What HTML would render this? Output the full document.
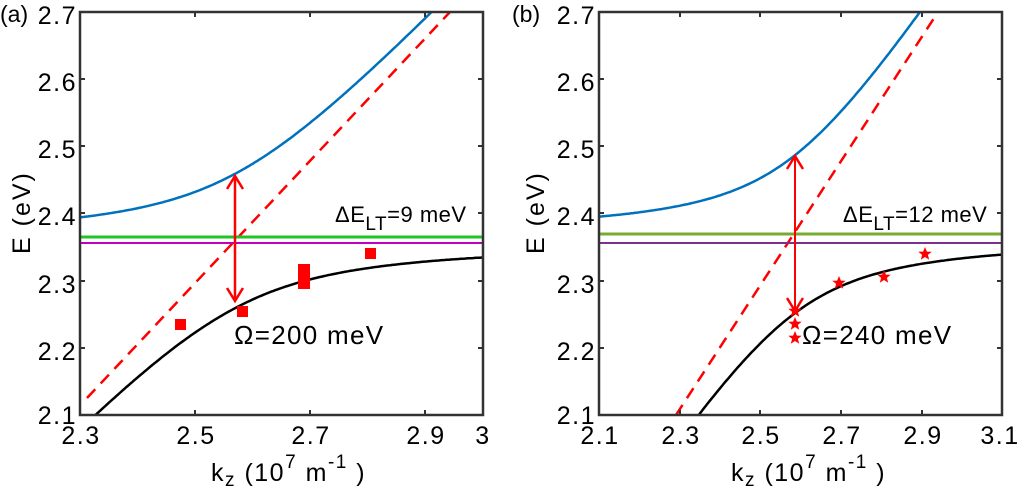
<!DOCTYPE html>
<html><head><meta charset="utf-8"><style>
html,body{margin:0;padding:0;background:#fff;width:1018px;height:495px;overflow:hidden}
svg{display:block}
text{font-family:"Liberation Sans",Arial,sans-serif;fill:#000}
.tk{font-size:25px;letter-spacing:1.5px}
</style></head><body>
<svg width="1018" height="495" viewBox="0 0 1018 495" xmlns="http://www.w3.org/2000/svg">
<defs>
<path id="star" d="M0,-7 L1.9,-2.4 6.7,-2.2 2.9,0.9 4.2,5.7 0,3 -4.2,5.7 -2.9,0.9 -6.7,-2.2 -1.9,-2.4Z" fill="#f00"/>
<clipPath id="ca"><rect x="80" y="12" width="403" height="403"/></clipPath>
<clipPath id="cb"><rect x="599" y="12" width="403" height="403"/></clipPath>
</defs>
<!-- Panel a -->
<g clip-path="url(#ca)">
<path id="ua" d="" fill="none" stroke="#0072bd" stroke-width="2.5"/>
<line x1="87" y1="398" x2="450" y2="12" stroke="#f00" stroke-width="2.5" stroke-dasharray="12,8"/>
<path id="la" d="" fill="none" stroke="#000" stroke-width="2.5"/>
</g>
<line x1="80" y1="237" x2="483" y2="237" stroke="#21c421" stroke-width="3"/>
<line x1="80" y1="243" x2="483" y2="243" stroke="#bf00bf" stroke-width="2"/>
<line x1="235" y1="177" x2="235" y2="300" stroke="#f00" stroke-width="2.5"/>
<path d="M227,189 L235,176 243,189 M227,288 L235,301 243,288" fill="none" stroke="#f00" stroke-width="2.5"/>
<rect x="175" y="319" width="11" height="11" fill="#f00"/>
<rect x="237" y="306" width="11" height="11" fill="#f00"/>
<rect x="298" y="264" width="12" height="25" fill="#f00"/>
<rect x="365" y="248" width="11" height="11" fill="#f00"/>
<rect x="80" y="12" width="403" height="403" fill="none" stroke="#333" stroke-width="2.5"/>
<g stroke="#333" stroke-width="2">
<line x1="80" y1="79" x2="85" y2="79"/><line x1="80" y1="146" x2="85" y2="146"/><line x1="80" y1="213" x2="85" y2="213"/><line x1="80" y1="281" x2="85" y2="281"/><line x1="80" y1="348" x2="85" y2="348"/>
<line x1="483" y1="79" x2="478" y2="79"/><line x1="483" y1="146" x2="478" y2="146"/><line x1="483" y1="213" x2="478" y2="213"/><line x1="483" y1="281" x2="478" y2="281"/><line x1="483" y1="348" x2="478" y2="348"/>
<line x1="195" y1="415" x2="195" y2="410"/><line x1="310" y1="415" x2="310" y2="410"/><line x1="425" y1="415" x2="425" y2="410"/>
<line x1="195" y1="12" x2="195" y2="17"/><line x1="310" y1="12" x2="310" y2="17"/><line x1="425" y1="12" x2="425" y2="17"/>
</g>
<g class="tk" text-anchor="end">
<text x="77" y="24">2.7</text><text x="77" y="91">2.6</text><text x="77" y="158">2.5</text><text x="77" y="225">2.4</text><text x="77" y="293">2.3</text><text x="77" y="360">2.2</text><text x="77" y="424">2.1</text>
</g>
<text x="0" y="22" font-size="23">(a)</text>
<g class="tk" text-anchor="middle">
<text x="81" y="444">2.3</text><text x="196" y="444">2.5</text><text x="311" y="444">2.7</text><text x="426" y="444">2.9</text><text x="483" y="444">3</text>
</g>
<text transform="translate(30,254) rotate(-90)" font-size="25" letter-spacing="2">E (eV)</text>
<text x="211" y="481" font-size="25" letter-spacing="1.5">k<tspan font-size="19" dy="5">z</tspan><tspan dy="-5"> (10</tspan><tspan font-size="19" dy="-13">7</tspan><tspan dy="13"> m</tspan><tspan font-size="19" dy="-13">-1</tspan><tspan dy="13"> )</tspan></text>
<text x="335" y="222" font-size="22" letter-spacing="0.5">ΔE<tspan font-size="19" dy="8">LT</tspan><tspan dy="-8">=9 meV</tspan></text>
<text x="234" y="344" font-size="26" letter-spacing="1.3">Ω=200 meV</text>
<!-- Panel b -->
<g clip-path="url(#cb)">
<path id="ub" d="" fill="none" stroke="#0072bd" stroke-width="2.5"/>
<line x1="676" y1="415" x2="938" y2="12" stroke="#f00" stroke-width="2.5" stroke-dasharray="12,8"/>
<path id="lb" d="" fill="none" stroke="#000" stroke-width="2.5"/>
</g>
<line x1="599" y1="234" x2="1002" y2="234" stroke="#77ac30" stroke-width="3"/>
<line x1="599" y1="243" x2="1002" y2="243" stroke="#7e2f8e" stroke-width="2"/>
<line x1="795" y1="157" x2="795" y2="310" stroke="#f00" stroke-width="2"/>
<path d="M787,169 L795,156 803,169 M787,298 L795,311 803,298" fill="none" stroke="#f00" stroke-width="2.5"/>
<use href="#star" x="795" y="311"/><use href="#star" x="795" y="324"/><use href="#star" x="795" y="338"/>
<use href="#star" x="839" y="283"/><use href="#star" x="884" y="277"/><use href="#star" x="925" y="254"/>
<rect x="599" y="12" width="403" height="403" fill="none" stroke="#333" stroke-width="2.5"/>
<g stroke="#333" stroke-width="2">
<line x1="599" y1="79" x2="604" y2="79"/><line x1="599" y1="146" x2="604" y2="146"/><line x1="599" y1="213" x2="604" y2="213"/><line x1="599" y1="281" x2="604" y2="281"/><line x1="599" y1="348" x2="604" y2="348"/>
<line x1="1002" y1="79" x2="997" y2="79"/><line x1="1002" y1="146" x2="997" y2="146"/><line x1="1002" y1="213" x2="997" y2="213"/><line x1="1002" y1="281" x2="997" y2="281"/><line x1="1002" y1="348" x2="997" y2="348"/>
<line x1="680" y1="415" x2="680" y2="410"/><line x1="760" y1="415" x2="760" y2="410"/><line x1="841" y1="415" x2="841" y2="410"/><line x1="922" y1="415" x2="922" y2="410"/>
<line x1="680" y1="12" x2="680" y2="17"/><line x1="760" y1="12" x2="760" y2="17"/><line x1="841" y1="12" x2="841" y2="17"/><line x1="922" y1="12" x2="922" y2="17"/>
</g>
<g class="tk" text-anchor="end">
<text x="596" y="24">2.7</text><text x="596" y="91">2.6</text><text x="596" y="158">2.5</text><text x="596" y="225">2.4</text><text x="596" y="293">2.3</text><text x="596" y="360">2.2</text><text x="596" y="424">2.1</text>
</g>
<text x="512" y="22" font-size="23">(b)</text>
<g class="tk" text-anchor="middle">
<text x="600" y="444">2.1</text><text x="681" y="444">2.3</text><text x="761" y="444">2.5</text><text x="842" y="444">2.7</text><text x="923" y="444">2.9</text><text x="1000" y="444">3.1</text>
</g>
<text transform="translate(544,254) rotate(-90)" font-size="25" letter-spacing="2">E (eV)</text>
<text x="731" y="481" font-size="25" letter-spacing="1.5">k<tspan font-size="19" dy="5">z</tspan><tspan dy="-5"> (10</tspan><tspan font-size="19" dy="-13">7</tspan><tspan dy="13"> m</tspan><tspan font-size="19" dy="-13">-1</tspan><tspan dy="13"> )</tspan></text>
<text x="843" y="222" font-size="22" letter-spacing="0.5">ΔE<tspan font-size="19" dy="8">LT</tspan><tspan dy="-8">=12 meV</tspan></text>
<text x="802" y="344" font-size="26" letter-spacing="1.3">Ω=240 meV</text>
</svg>
<script>
function curves(x0,k0,kr,e0,k1,sl,ex,om,ida,idb){
  var u="",l="";
  for(var i=0;i<=200;i++){
    var k=k0+kr*i/200, eph=e0+sl*(k-k1), m=(eph+ex)/2, d=Math.sqrt(Math.pow((eph-ex)/2,2)+om*om/4);
    var x=x0+(k-k0)/kr*403, yu=12+(2.7-(m+d))/0.6*403, yl=12+(2.7-(m-d))/0.6*403;
    u+=(i?"L":"M")+x.toFixed(1)+","+yu.toFixed(1);
    l+=(i?"L":"M")+x.toFixed(1)+","+yl.toFixed(1);
  }
  document.getElementById(ida).setAttribute("d",u);
  document.getElementById(idb).setAttribute("d",l);
}
curves(80,2.3,0.7,2.1253,2.3122,0.9115,2.3585,0.2,"ua","la");
curves(599,2.1,1.0,2.1,2.291,0.923,2.366,0.235,"ub","lb");
</script>
</body></html>
